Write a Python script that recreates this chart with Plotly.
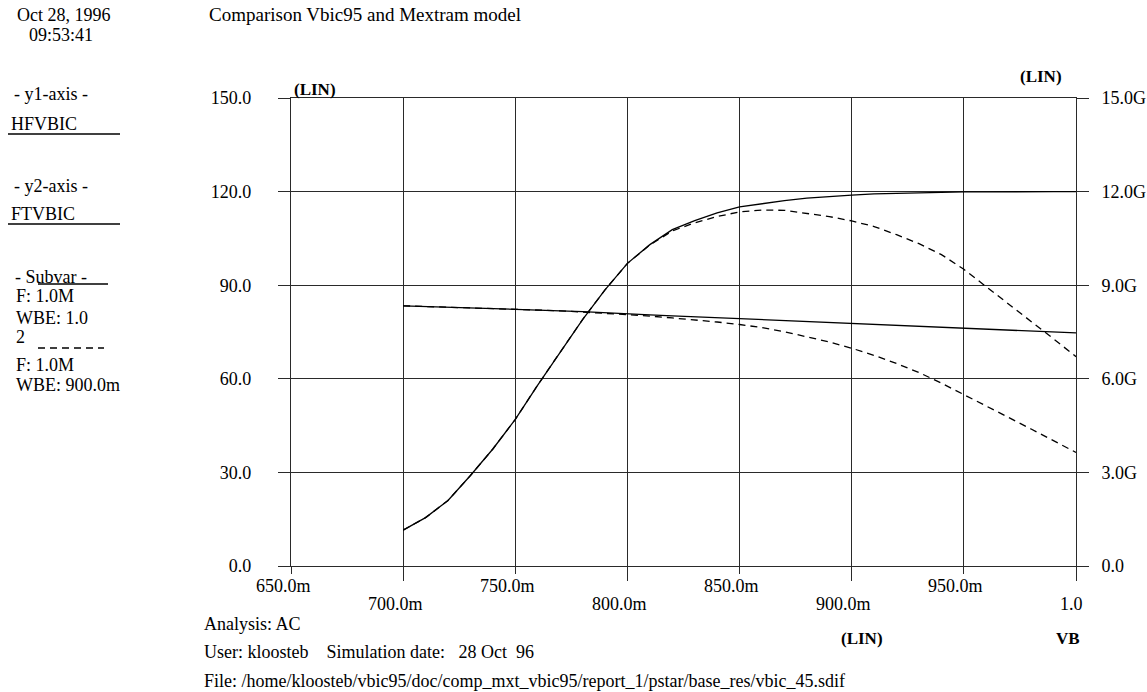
import plotly.graph_objects as go

# base voltage sweep (V)
vb = [0.70, 0.71, 0.72, 0.73, 0.74, 0.75, 0.76, 0.77, 0.78, 0.79, 0.80,
      0.81, 0.82, 0.83, 0.84, 0.85, 0.86, 0.87, 0.88, 0.89, 0.90,
      0.91, 0.92, 0.93, 0.94, 0.95, 0.96, 0.97, 0.98, 0.99, 1.00]

# HFVBIC (y1 axis)
hf_wbe_1 = [83.4, 83.2, 83.0, 82.8, 82.6, 82.4, 82.1, 81.8, 81.5, 81.1, 80.8,
            80.5, 80.2, 79.9, 79.6, 79.4, 79.1, 78.8, 78.4, 78.1, 77.8,
            77.5, 77.2, 77.0, 76.6, 76.3, 76.0, 75.7, 75.3, 75.0, 74.7]
hf_wbe_09 = [83.4, 83.2, 83.0, 82.8, 82.6, 82.4, 82.1, 81.8, 81.4, 81.0, 80.6,
             80.1, 79.5, 78.9, 78.2, 77.4, 76.4, 75.1, 73.5, 71.8, 69.8,
             67.5, 64.9, 62.0, 58.6, 55.0, 51.3, 47.6, 43.9, 40.1, 36.4]

# FTVBIC in GHz (y2 axis)
ft_wbe_1 = [1.15, 1.55, 2.10, 2.90, 3.75, 4.70, 5.80, 6.85, 7.90, 8.85, 9.70,
            10.30, 10.78, 11.07, 11.32, 11.51, 11.62, 11.71, 11.79, 11.85, 11.89,
            11.93, 11.95, 11.97, 11.98, 11.99, 11.99, 12.00, 12.00, 12.00, 12.00]
ft_wbe_09 = [1.15, 1.55, 2.10, 2.90, 3.75, 4.70, 5.80, 6.85, 7.90, 8.85, 9.70,
             10.29, 10.74, 11.00, 11.20, 11.35, 11.41, 11.40, 11.31, 11.20, 11.06,
             10.88, 10.62, 10.33, 9.98, 9.51, 8.95, 8.40, 7.84, 7.28, 6.71]

x_ticks = [0.65, 0.70, 0.75, 0.80, 0.85, 0.90, 0.95, 1.00]
x_labels = ["650.0m", "700.0m", "750.0m", "800.0m", "850.0m", "900.0m", "950.0m", "1.0"]
y1_ticks = [0, 30, 60, 90, 120, 150]
y1_labels = ["0.0", "30.0", "60.0", "90.0", "120.0", "150.0"]
y2_ticks = [0, 3, 6, 9, 12, 15]
y2_labels = ["0.0", "3.0G", "6.0G", "9.0G", "12.0G", "15.0G"]

FONT = "Liberation Serif"
FS = 18
W, H = 1147, 692
L, R, T, B = 291, 1076, 98, 566


def px(x):
    return (x - L) / (R - L)


def py(y):
    return (B - y) / (B - T)


fig = go.Figure()
line_solid = dict(color="black", width=1.3)
line_dash = dict(color="black", width=1.3, dash="7px,5px")
fig.add_trace(go.Scatter(x=vb, y=hf_wbe_1, mode="lines", line=line_solid, name="HFVBIC WBE 1.0"))
fig.add_trace(go.Scatter(x=vb, y=hf_wbe_09, mode="lines", line=line_dash, name="HFVBIC WBE 0.9"))
fig.add_trace(go.Scatter(x=vb, y=ft_wbe_1, mode="lines", line=line_solid, yaxis="y2", name="FTVBIC WBE 1.0"))
fig.add_trace(go.Scatter(x=vb, y=ft_wbe_09, mode="lines", line=line_dash, yaxis="y2", name="FTVBIC WBE 0.9"))

grid_col = "#2a2a2a"
fig.update_layout(
    width=W, height=H, autosize=False,
    margin=dict(l=L, r=W - R, t=T, b=H - B, pad=0, autoexpand=False),
    plot_bgcolor="white", paper_bgcolor="white",
    showlegend=False,
    font=dict(family=FONT, size=FS, color="black"),
    xaxis=dict(
        range=[0.65, 1.0], tick0=0.7, dtick=0.1, ticks="outside", ticklen=14,
        tickcolor=grid_col, tickwidth=1.3, automargin=False,
        showticklabels=False, showgrid=True, gridcolor=grid_col, gridwidth=1.3,
        showline=True, linecolor=grid_col, linewidth=1.3, mirror=True, zeroline=False,
        minor=dict(dtick=0.05, tick0=0.65, ticks="outside", ticklen=7, tickcolor=grid_col,
                   tickwidth=1.3, showgrid=True, gridcolor=grid_col, gridwidth=1.3),
    ),
    yaxis=dict(
        range=[0, 150], tickvals=y1_ticks, ticktext=y1_labels, ticks="outside", ticklen=12,
        tickcolor=grid_col, tickwidth=1.3, ticklabelstandoff=23, automargin=False,
        showgrid=True, gridcolor=grid_col, gridwidth=1.3,
        showline=True, linecolor=grid_col, linewidth=1.3, mirror=True, zeroline=False,
        tickfont=dict(family=FONT, size=FS),
    ),
    yaxis2=dict(
        range=[0, 15], tickvals=y2_ticks, ticktext=y2_labels, ticks="outside", ticklen=12,
        tickcolor=grid_col, tickwidth=1.3, ticklabelstandoff=9, automargin=False,
        overlaying="y", side="right", showgrid=False, zeroline=False,
        tickfont=dict(family=FONT, size=FS),
    ),
)

ann = []


def text(x, y, s, anchor="left", bold=False, size=FS):
    ann.append(dict(x=px(x), y=py(y), xref="paper", yref="paper", text=f"<b>{s}</b>" if bold else s,
                    showarrow=False, xanchor=anchor, yanchor="middle",
                    font=dict(family=FONT, size=size, color="black")))


# staggered x tick labels
for i, (v, lab) in enumerate(zip(x_ticks, x_labels)):
    ann.append(dict(x=v, y=py(586 if i % 2 == 0 else 604), xref="x", yref="paper", text=lab,
                    showarrow=False, xanchor="center", yanchor="middle",
                    xshift=-5 if lab == "1.0" else -8,
                    font=dict(family=FONT, size=FS, color="black")))

text(15, 15, "Oct 28, 1996")
text(27, 35, "09:53:41")
text(207, 15, "Comparison Vbic95 and Mextram model", size=19)
text(12, 94, "- y1-axis -")
text(9, 124, "HFVBIC")
text(12, 186, "- y2-axis -")
text(9, 214, "FTVBIC")
text(13, 277, "- Subvar -")
text(14, 296, "F: 1.0M")
text(14, 318, "WBE: 1.0")
text(14, 337, "2")
text(14, 365, "F: 1.0M")
text(14, 385, "WBE: 900.0m")
text(292, 89, "(LIN)", bold=True, size=17)
text(1018, 77, "(LIN)", bold=True, size=17)
text(202, 624, "Analysis: AC")
text(202, 652, "User: kloosteb&nbsp;&nbsp;&nbsp;&nbsp;Simulation date:&nbsp;&nbsp;&nbsp;28 Oct&nbsp;&nbsp;96")
text(202, 681, "File: /home/kloosteb/vbic95/doc/comp_mxt_vbic95/report_1/pstar/base_res/vbic_45.sdif")
text(862, 638, "(LIN)", anchor="center", bold=True, size=17)
text(1068, 638, "VB", anchor="center", bold=True, size=17)
fig.update_layout(annotations=ann)

# rules under the axis names and legend line samples
shapes = [
    dict(x0=8, x1=120, y0=134, y1=134, dash="solid"),
    dict(x0=8, x1=120, y0=224, y1=224, dash="solid"),
    dict(x0=38, x1=108, y0=284, y1=284, dash="solid"),
    dict(x0=38, x1=104, y0=348, y1=348, dash="7px,5px"),
]
for s in shapes:
    fig.add_shape(type="line", xref="paper", yref="paper",
                  x0=px(s["x0"]), x1=px(s["x1"]), y0=py(s["y0"]), y1=py(s["y1"]),
                  line=dict(color="black", width=1.3, dash=s["dash"]))

fig.write_html("out.html", config={"displayModeBar": False},
               post_script="document.body.style.margin='0px';")
